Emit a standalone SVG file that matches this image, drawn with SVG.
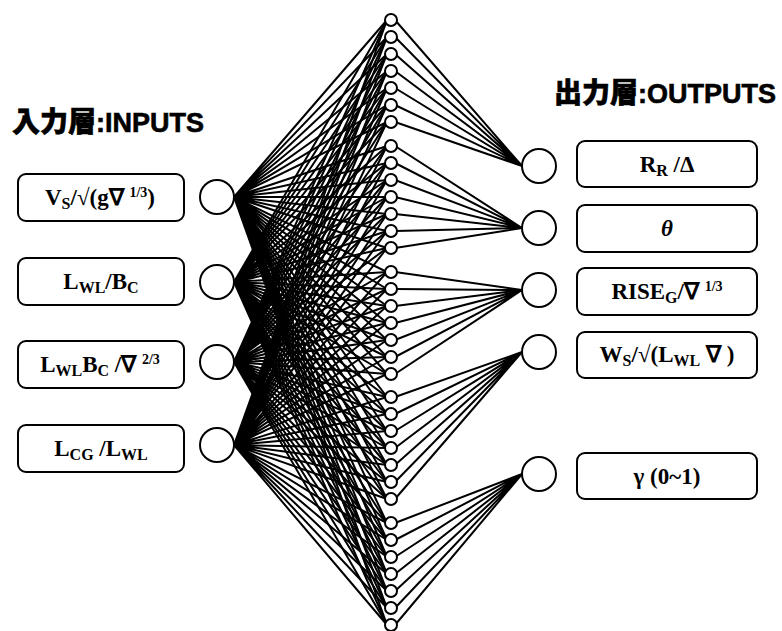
<svg xmlns="http://www.w3.org/2000/svg" width="782" height="631" viewBox="0 0 782 631">
<style>
.box{fill:#fff;stroke:#000;stroke-width:2}
.node{fill:#fff;stroke:#000;stroke-width:2}
.hid{fill:#fff;stroke:#000;stroke-width:2}
.wire{fill:none;stroke:#000;stroke-width:2}
.lbl{font-family:"Liberation Serif","Times New Roman",serif;font-weight:bold;font-size:23px;text-anchor:middle;fill:#000}
.sub{font-size:16px}
.sup{font-size:14px}
.ttl{font-family:"Liberation Sans","Noto Sans CJK JP",sans-serif;font-weight:bold;font-size:27px;fill:#000;stroke:#000;stroke-width:0.6}
.cjk{font-family:"Noto Sans CJK JP",sans-serif;font-weight:900;font-size:28px}
</style>
<rect width="782" height="631" fill="#fff"/>
<text class="ttl" x="12" y="132"><tspan class="cjk">入力層</tspan>:INPUTS</text>
<text class="ttl" x="554" y="103"><tspan class="cjk">出力層</tspan>:OUTPUTS</text>
<g id="connectors">
<path class="wire" d="M234 197L387 20M234 197L387 37M234 197L387 54M234 197L387 71M234 197L387 88M234 197L387 105M234 197L387 122M234 197L387 146M234 197L387 163M234 197L387 180M234 197L387 197M234 197L387 214M234 197L387 231M234 197L387 248M234 197L387 272M234 197L387 289M234 197L387 306M234 197L387 323M234 197L387 340M234 197L387 357M234 197L387 374M234 197L387 397M234 197L387 414M234 197L387 431M234 197L387 448M234 197L387 465M234 197L387 482M234 197L387 499M234 197L387 523M234 197L387 540M234 197L387 557M234 197L387 574M234 197L387 591M234 197L387 608M234 197L387 625"/>
<path class="wire" d="M234 282L387 20M234 282L387 37M234 282L387 54M234 282L387 71M234 282L387 88M234 282L387 105M234 282L387 122M234 282L387 146M234 282L387 163M234 282L387 180M234 282L387 197M234 282L387 214M234 282L387 231M234 282L387 248M234 282L387 272M234 282L387 289M234 282L387 306M234 282L387 323M234 282L387 340M234 282L387 357M234 282L387 374M234 282L387 397M234 282L387 414M234 282L387 431M234 282L387 448M234 282L387 465M234 282L387 482M234 282L387 499M234 282L387 523M234 282L387 540M234 282L387 557M234 282L387 574M234 282L387 591M234 282L387 608M234 282L387 625"/>
<path class="wire" d="M234 362L387 20M234 362L387 37M234 362L387 54M234 362L387 71M234 362L387 88M234 362L387 105M234 362L387 122M234 362L387 146M234 362L387 163M234 362L387 180M234 362L387 197M234 362L387 214M234 362L387 231M234 362L387 248M234 362L387 272M234 362L387 289M234 362L387 306M234 362L387 323M234 362L387 340M234 362L387 357M234 362L387 374M234 362L387 397M234 362L387 414M234 362L387 431M234 362L387 448M234 362L387 465M234 362L387 482M234 362L387 499M234 362L387 523M234 362L387 540M234 362L387 557M234 362L387 574M234 362L387 591M234 362L387 608M234 362L387 625"/>
<path class="wire" d="M234 445L387 20M234 445L387 37M234 445L387 54M234 445L387 71M234 445L387 88M234 445L387 105M234 445L387 122M234 445L387 146M234 445L387 163M234 445L387 180M234 445L387 197M234 445L387 214M234 445L387 231M234 445L387 248M234 445L387 272M234 445L387 289M234 445L387 306M234 445L387 323M234 445L387 340M234 445L387 357M234 445L387 374M234 445L387 397M234 445L387 414M234 445L387 431M234 445L387 448M234 445L387 465M234 445L387 482M234 445L387 499M234 445L387 523M234 445L387 540M234 445L387 557M234 445L387 574M234 445L387 591M234 445L387 608M234 445L387 625"/>
<path class="wire" d="M395 20L522 166M395 37L522 166M395 54L522 166M395 71L522 166M395 88L522 166M395 105L522 166M395 122L522 166"/>
<path class="wire" d="M395 146L522 228M395 163L522 228M395 180L522 228M395 197L522 228M395 214L522 228M395 231L522 228M395 248L522 228"/>
<path class="wire" d="M395 272L522 290M395 289L522 290M395 306L522 290M395 323L522 290M395 340L522 290M395 357L522 290M395 374L522 290"/>
<path class="wire" d="M395 397L522 352M395 414L522 352M395 431L522 352M395 448L522 352M395 465L522 352M395 482L522 352M395 499L522 352"/>
<path class="wire" d="M395 523L522 474M395 540L522 474M395 557L522 474M395 574L522 474M395 591L522 474M395 608L522 474M395 625L522 474"/>
</g>
<g id="in1"><rect class="box" x="18" y="174" width="166" height="47" rx="8"/><circle class="node" cx="217" cy="197" r="17"/>
<text class="lbl" x="100" y="205">V<tspan class="sub" dy="4">S</tspan><tspan dy="-4">/√(g∇ </tspan><tspan class="sup" dy="-8">1/3</tspan><tspan dy="8">)</tspan></text></g>
<g id="in2"><rect class="box" x="18" y="258" width="166" height="47" rx="8"/><circle class="node" cx="217" cy="282" r="17"/>
<text class="lbl" x="101" y="289">L<tspan class="sub" dy="4">WL</tspan><tspan dy="-4">/B</tspan><tspan class="sub" dy="4">C</tspan></text></g>
<g id="in3"><rect class="box" x="18" y="341" width="166" height="47" rx="8"/><circle class="node" cx="217" cy="362" r="17"/>
<text class="lbl" x="100" y="372">L<tspan class="sub" dy="4">WL</tspan><tspan dy="-4">B</tspan><tspan class="sub" dy="4">C</tspan><tspan dy="-4"> /∇ </tspan><tspan class="sup" dy="-8">2/3</tspan></text></g>
<g id="in4"><rect class="box" x="18" y="425" width="166" height="47" rx="8"/><circle class="node" cx="217" cy="445" r="17"/>
<text class="lbl" x="101" y="456">L<tspan class="sub" dy="4">CG</tspan><tspan dy="-4"> /L</tspan><tspan class="sub" dy="4">WL</tspan></text></g>
<g id="hidden">
<circle class="hid" cx="391" cy="20" r="6"/><circle class="hid" cx="391" cy="37" r="6"/><circle class="hid" cx="391" cy="54" r="6"/><circle class="hid" cx="391" cy="71" r="6"/><circle class="hid" cx="391" cy="88" r="6"/><circle class="hid" cx="391" cy="105" r="6"/><circle class="hid" cx="391" cy="122" r="6"/>
<circle class="hid" cx="391" cy="146" r="6"/><circle class="hid" cx="391" cy="163" r="6"/><circle class="hid" cx="391" cy="180" r="6"/><circle class="hid" cx="391" cy="197" r="6"/><circle class="hid" cx="391" cy="214" r="6"/><circle class="hid" cx="391" cy="231" r="6"/><circle class="hid" cx="391" cy="248" r="6"/>
<circle class="hid" cx="391" cy="272" r="6"/><circle class="hid" cx="391" cy="289" r="6"/><circle class="hid" cx="391" cy="306" r="6"/><circle class="hid" cx="391" cy="323" r="6"/><circle class="hid" cx="391" cy="340" r="6"/><circle class="hid" cx="391" cy="357" r="6"/><circle class="hid" cx="391" cy="374" r="6"/>
<circle class="hid" cx="391" cy="397" r="6"/><circle class="hid" cx="391" cy="414" r="6"/><circle class="hid" cx="391" cy="431" r="6"/><circle class="hid" cx="391" cy="448" r="6"/><circle class="hid" cx="391" cy="465" r="6"/><circle class="hid" cx="391" cy="482" r="6"/><circle class="hid" cx="391" cy="499" r="6"/>
<circle class="hid" cx="391" cy="523" r="6"/><circle class="hid" cx="391" cy="540" r="6"/><circle class="hid" cx="391" cy="557" r="6"/><circle class="hid" cx="391" cy="574" r="6"/><circle class="hid" cx="391" cy="591" r="6"/><circle class="hid" cx="391" cy="608" r="6"/><circle class="hid" cx="391" cy="625" r="6"/>
</g>
<g id="out1"><circle class="node" cx="539" cy="166" r="17"/><rect class="box" x="577" y="141" width="180" height="46" rx="8"/>
<text class="lbl" x="667" y="172">R<tspan class="sub" dy="4">R</tspan><tspan dy="-4"> /Δ</tspan></text></g>
<g id="out2"><circle class="node" cx="539" cy="228" r="17"/><rect class="box" x="577" y="205" width="180" height="47" rx="8"/>
<text class="lbl" x="667" y="236" font-style="italic">θ</text></g>
<g id="out3"><circle class="node" cx="539" cy="290" r="17"/><rect class="box" x="577" y="268" width="180" height="47" rx="8"/>
<text class="lbl" x="667" y="299">RISE<tspan class="sub" dy="4">G</tspan><tspan dy="-4">/∇ </tspan><tspan class="sup" dy="-8">1/3</tspan></text></g>
<g id="out4"><circle class="node" cx="539" cy="352" r="17"/><rect class="box" x="577" y="332" width="180" height="46" rx="8"/>
<text class="lbl" x="667" y="362">W<tspan class="sub" dy="4">S</tspan><tspan dy="-4">/√(L</tspan><tspan class="sub" dy="4">WL</tspan><tspan dy="-4"> ∇ )</tspan></text></g>
<g id="out5"><circle class="node" cx="539" cy="474" r="17"/><rect class="box" x="577" y="453" width="180" height="46" rx="8"/>
<text class="lbl" x="667" y="484">γ (0~1)</text></g>
</svg>
